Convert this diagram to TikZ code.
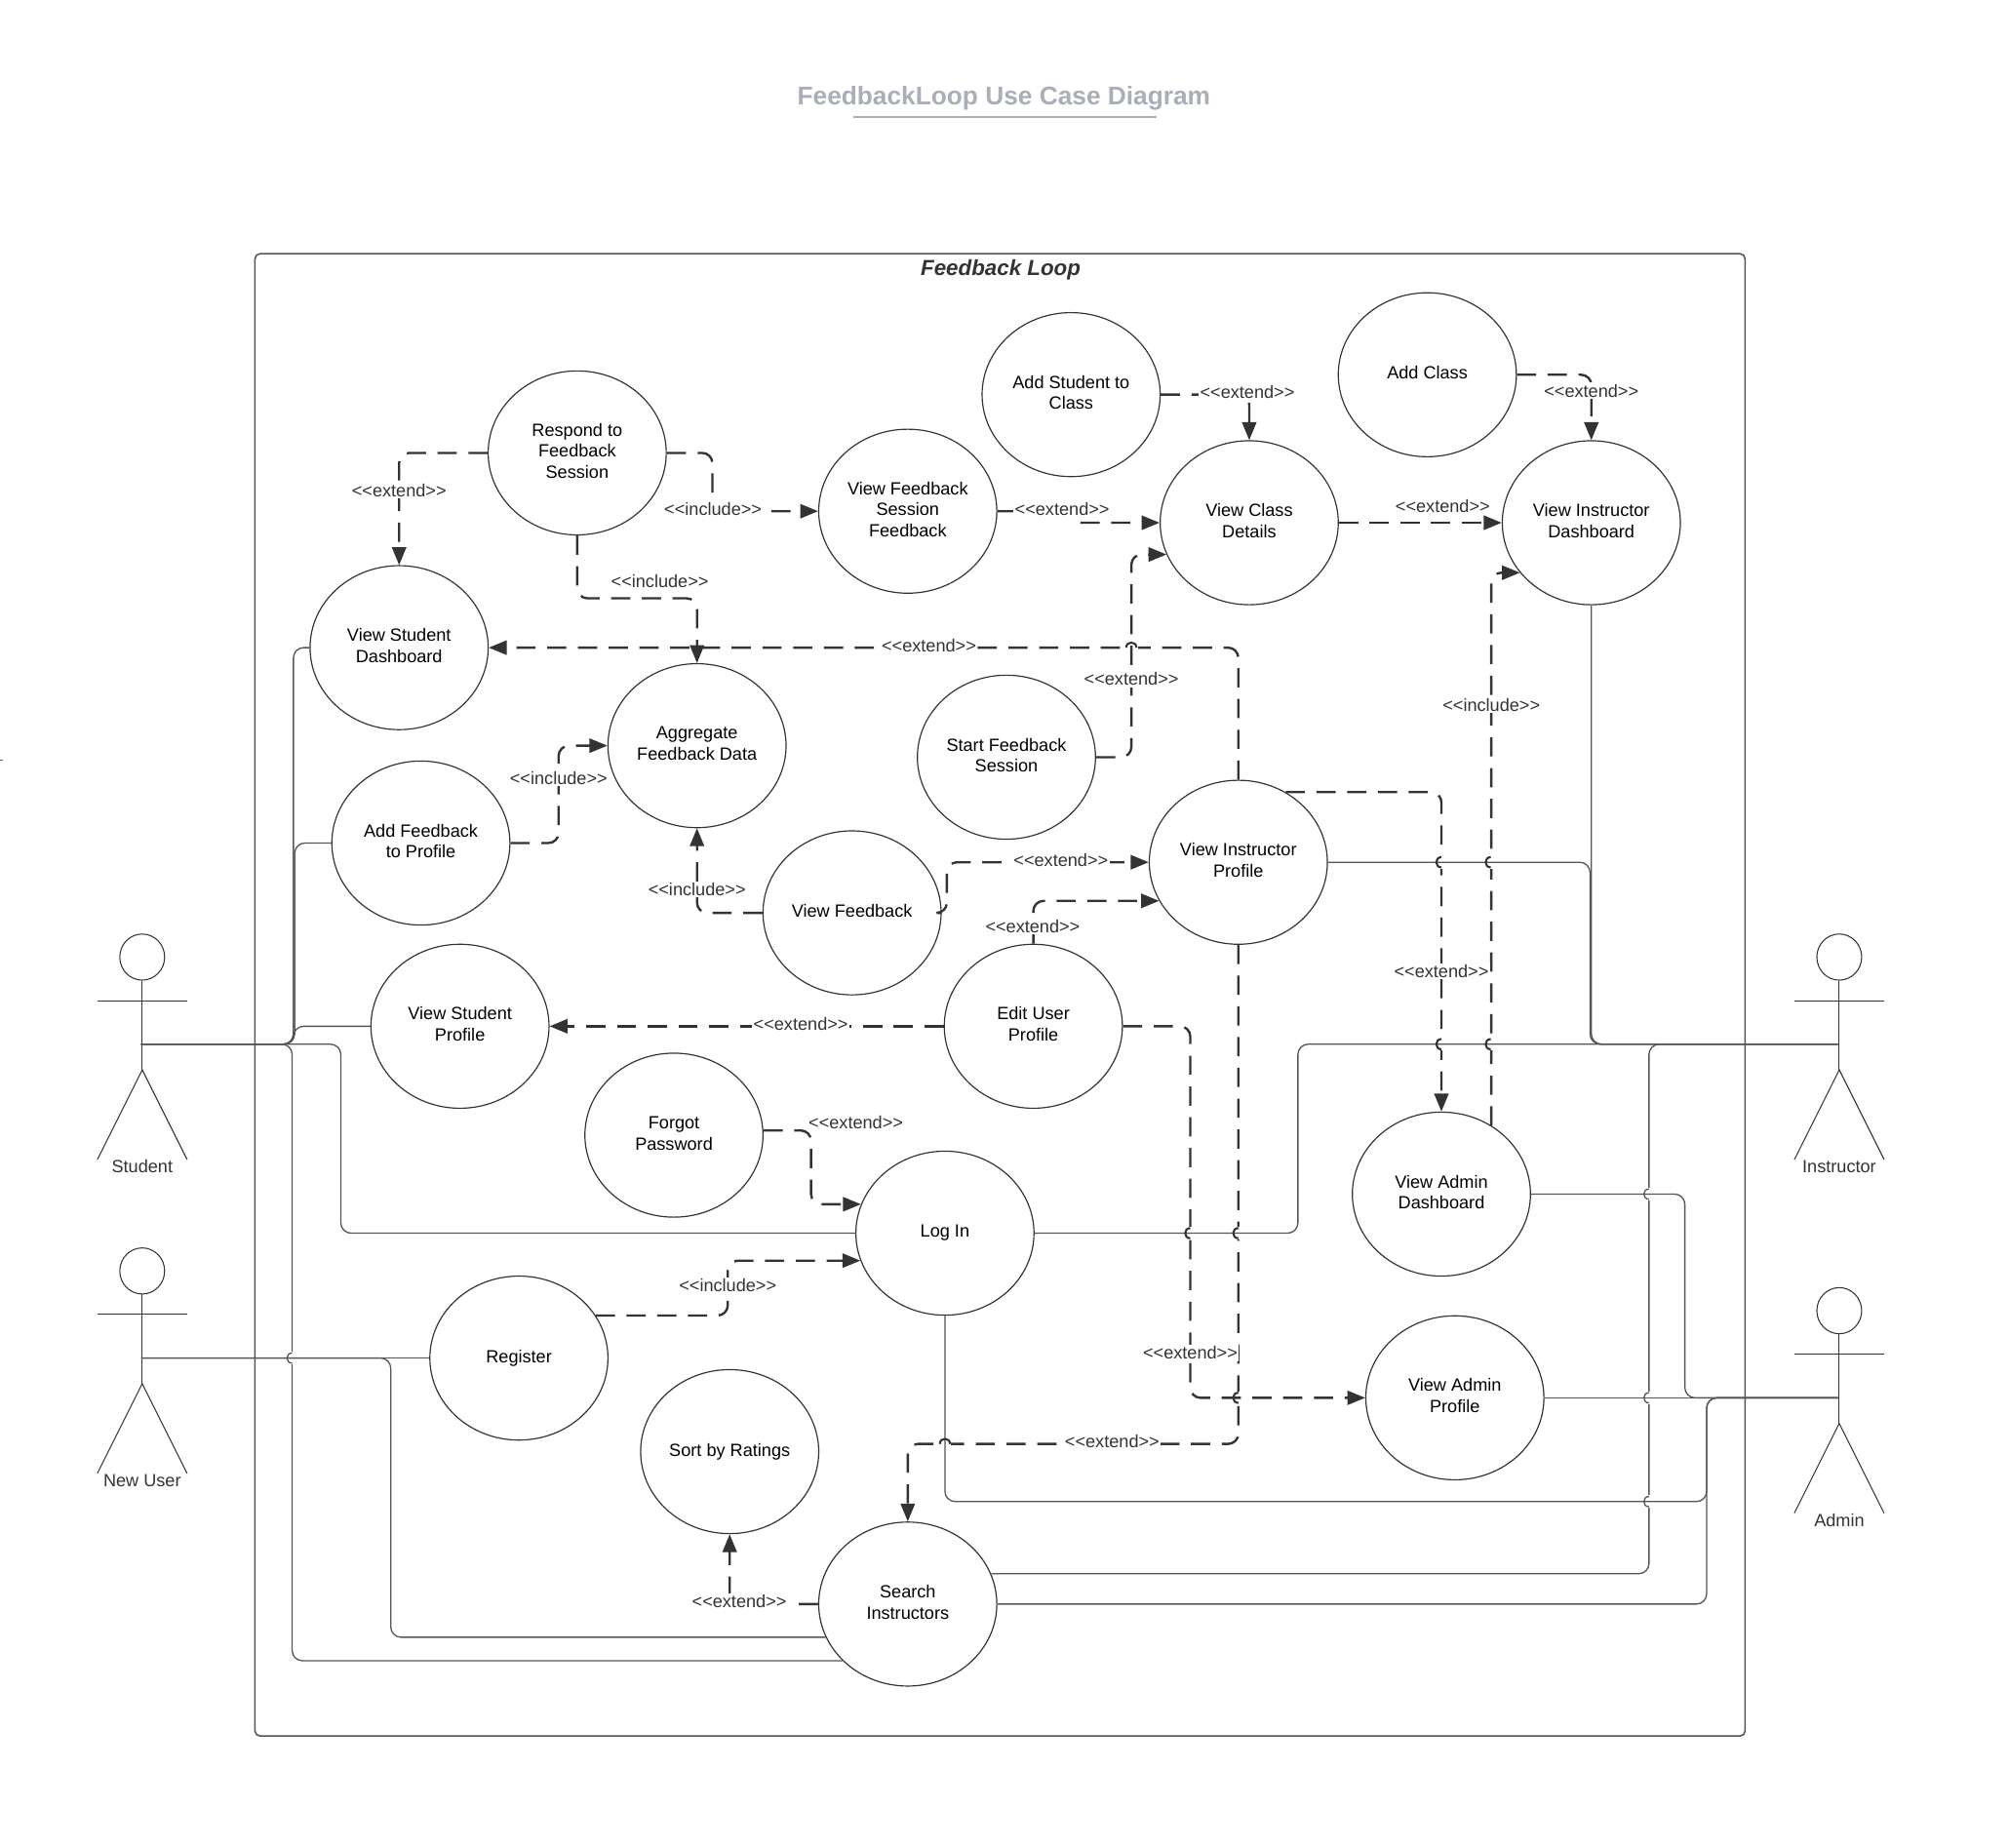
\documentclass[tikz,border=0pt]{standalone}
\usepackage{fontspec}
\setmainfont{Liberation Sans}
\usetikzlibrary{arrows.meta,shapes.geometric}
\definecolor{dk}{HTML}{333333}
\definecolor{solidc}{HTML}{555555}
\definecolor{titlec}{HTML}{A9AEB8}
\tikzset{
  uc/.style={ellipse,draw=dk,line width=0.45pt,fill=white,minimum width=69.5pt,minimum height=64pt,inner sep=0pt,align=center,text=black,text depth=1.6pt,font=\fontsize{6.9}{8.25}\selectfont},
  lbl/.style={fill=white,inner sep=0.6pt,text=dk,font=\fontsize{6.9}{8.25}\selectfont},
  actorname/.style={inner sep=0pt,text=dk,font=\fontsize{6.9}{8.25}\selectfont},
  actorline/.style={draw=dk,line width=0.4pt},
  dep/.style={draw=dk,line width=0.9pt,dash pattern=on 7.5pt off 4.5pt,rounded corners=4pt,-{Triangle[length=7pt,width=5.5pt,fill=dk]}},
  assoc/.style={draw=solidc,line width=0.5pt,rounded corners=4pt},
  hopdash/.style={draw=dk,line width=0.8pt},
  hopsolid/.style={draw=solidc,line width=0.5pt}
}
\newcommand\patchV[2]{\fill[white] ({#1-2.5},{#2-5}) rectangle ({#1+2.5},{#2+5});}
\newcommand\patchH[2]{\fill[white] ({#1-5},{#2-2.5}) rectangle ({#1+5},{#2+2.5});}
\newcommand\hopL[3]{\draw[#3] (#1,{#2-4}) .. controls ({#1-5.3},{#2-4}) and ({#1-5.3},{#2+4}) .. (#1,{#2+4});}
\newcommand\hopU[3]{\draw[#3] ({#1-4},#2) .. controls ({#1-4},{#2-5.3}) and ({#1+4},{#2-5.3}) .. ({#1+4},#2);}
% name, x, head y, label
\newcommand\actorfig[4]{
  \node[ellipse,actorline,minimum width=17.5pt,minimum height=18pt,inner sep=0pt] (#1head) at (#2,#3) {};
  \coordinate (#1) at ({#2-1},{#3+68});
  \draw[actorline] (#1head.south) -- (#2,{#3+88});
  \draw[actorline] ({#2-35},{#3+34}) -- ({#2+35},{#3+34});
  \draw[actorline] ({#2-35},{#3+158}) -- (#2,{#3+88}) -- ({#2+35},{#3+158});
  \node[actorname] (#1label) at (#2,{#3+163.5}) {#4};
}
\begin{document}
\begin{tikzpicture}[x=0.5pt,y=-0.5pt]
\useasboundingbox (0,0) rectangle (1568,1441.7);
\fill[white] (0,0) rectangle (1568,1441.7);
\draw[solidc,line width=0.4pt] (0,593) -- (2,593);
% title and frame
\node[inner sep=0pt,text=titlec,font=\fontsize{10}{12}\selectfont\bfseries] (title) at (783.5,76.5) {FeedbackLoop Use Case Diagram};
\draw[titlec,line width=0.8pt] (666,91.5) -- (903,91.5);
\draw[draw=solidc,line width=0.6pt,rounded corners=2pt] (199,198) rectangle (1362,1355);
\node[inner sep=0pt,text=dk,font=\fontsize{8.5}{10}\selectfont\bfseries\itshape] (frametitle) at (781,211) {Feedback Loop};

% use cases
\node[uc] (respond) at (450.5,353.5) {Respond to\\Feedback\\Session};
\node[uc] (viewfbs) at (708.5,399) {View Feedback\\Session\\Feedback};
\node[uc] (addstudent) at (836,308) {Add Student to\\Class};
\node[uc] (addclass) at (1114,292.5) {Add Class};
\node[uc] (classdetails) at (975,408) {View Class\\Details};
\node[uc] (instdash) at (1242,408) {View Instructor\\Dashboard};
\node[uc] (studdash) at (311.5,505.5) {View Student\\Dashboard};
\node[uc] (aggregate) at (544,582) {Aggregate\\Feedback Data};
\node[uc] (startfb) at (785.5,591) {Start Feedback\\Session};
\node[uc] (addfb) at (328.5,658) {Add Feedback\\to Profile};
\node[uc] (viewfb) at (665,712.5) {View Feedback};
\node[uc] (instprof) at (966.5,673) {View Instructor\\Profile};
\node[uc] (studprof) at (359,801) {View Student\\Profile};
\node[uc] (editprof) at (806.5,801) {Edit User\\Profile};
\node[uc] (forgot) at (526,886) {Forgot\\Password};
\node[uc] (login) at (737.5,962.5) {Log In};
\node[uc] (admindash) at (1125,932) {View Admin\\Dashboard};
\node[uc] (register) at (405,1060) {Register};
\node[uc] (adminprof) at (1135.5,1091) {View Admin\\Profile};
\node[uc] (sort) at (569.5,1133) {Sort by Ratings};
\node[uc] (search) at (708.5,1252) {Search\\Instructors};

% actors
\actorfig{student}{111}{747}{Student}
\actorfig{newuser}{111}{992}{New User}
\actorfig{instructor}{1435.5}{747}{Instructor}
\actorfig{admin}{1435.5}{1023}{Admin}

% dependencies
\draw[dep] (respond.west) -| (studdash.north);
\draw[dep] (respond.east) -- (556,353.5) -- (556,399) -- (viewfbs.west);
\draw[dep] (respond.south) -- (450.5,467) -- (544,467) -- (aggregate.north);
\draw[dep,rounded corners=1pt] (viewfbs.east) -- (842,399) -- (842,408) -- (classdetails.west);
\draw[dep] (addstudent.east) -| (classdetails.north);
\draw[dep] (addclass.east) -| (instdash.north);
\draw[dep] (classdetails.east) -- (instdash.west);
\draw[dep] (instprof.north) |- (studdash.east);
\patchH{883}{505.5}
\draw[dep] (startfb.east) -| (883,500) |- (classdetails.201);
\draw[dep] (instprof.56) -| (admindash.north);
\draw[dep] (admindash.54) |- (instdash.215);
\draw[dep] (viewfb.east) -- (739,712.5) -- (739,673) -- (instprof.west);
\draw[dep] (editprof.north) |- (instprof.206.7);
\draw[dep] (editprof.west) -- (studprof.east);
\draw[dep] (instprof.south) -- (966.5,1127) -- (708.5,1127) -- (search.north);
\patchV{966.5}{1091}
\draw[dep] (editprof.east) -- (929,801) -- (929,1091) -- (adminprof.west);
\draw[dep] (viewfb.west) -| (aggregate.south);
\draw[dep] (addfb.east) -- (436,658) -- (436,582) -- (aggregate.west);
\draw[dep] (forgot.3) -| (633,900) |- (login.161.8);
\draw[dep] (register.29.2) -| (568,1005) |- (login.198.2);
\draw[dep] (search.west) -| (sort.south);
\patchV{1125}{673}\patchV{1125}{815}\patchV{1163.5}{673}\patchV{1163.5}{815}
\patchV{929}{962.5}\patchV{966.5}{962.5}\patchH{737.5}{1127}

% associations
\draw[assoc] (student) -- (229,815) -- (229,505.5) -- (studdash.west);
\draw[assoc] (student) -- (230,815) -- (230,658) -- (addfb.west);
\draw[assoc] (student) -- (229,815) -- (229,801) -- (studprof.west);
\draw[assoc] (student) -- (266,815) -- (266,962.5) -- (login.west);
\draw[assoc] (student) -- (228,815) |- (search.221.6);
\patchV{228}{1060}
\draw[assoc] (newuser) -- (register.west);
\draw[assoc] (newuser) -- (305,1060) |- (search.202.3);
\draw[assoc] (instructor) -| (instdash.south);
\draw[assoc] (instructor) -- (1241,815) -- (1241,673) -- (instprof.east);
\draw[assoc] (instructor) -- (1013,815) -- (1013,962.5) -- (login.east);
\draw[assoc] (instructor) -- (1287,815) |- (search.20.4);
\patchV{1287}{932}\patchV{1287}{1091}\patchV{1287}{1172}
\draw[assoc] (admin) -- (1315,1091) -- (1315,932) -- (admindash.east);
\draw[assoc] (admin) -- (adminprof.east);
\draw[assoc] (admin) -- (1332,1091) -- (1332,1172) -- (737.5,1172) -- (login.south);
\draw[assoc] (admin) -- (1332,1091) -- (1332,1252) -- (search.east);

% crossings
\hopL{1125}{673}{hopdash}\hopL{1125}{815}{hopdash}
\hopL{1163.5}{673}{hopdash}\hopL{1163.5}{815}{hopdash}
\hopL{929}{962.5}{hopdash}\hopL{966.5}{962.5}{hopdash}
\hopL{966.5}{1091}{hopdash}
\hopU{883}{505.5}{hopdash}\hopU{737.5}{1127}{hopdash}
\hopL{228}{1060}{hopsolid}
\hopL{1287}{932}{hopsolid}\hopL{1287}{1091}{hopsolid}\hopL{1287}{1172}{hopsolid}

% labels
\node[lbl] (l1) at (311.5,382.5) {<{}<extend>{}>};
\node[lbl] (l2) at (556.5,397) {<{}<include>{}>};
\node[lbl] (l3) at (515,454) {<{}<include>{}>};
\node[lbl] (l4) at (829,397) {<{}<extend>{}>};
\node[lbl] (l5) at (973.5,306) {<{}<extend>{}>};
\node[lbl] (l6) at (1242,305) {<{}<extend>{}>};
\node[lbl] (l7) at (1126,395) {<{}<extend>{}>};
\node[lbl] (l8) at (883,530) {<{}<extend>{}>};
\node[lbl] (l9) at (725,504) {<{}<extend>{}>};
\node[lbl] (l10) at (1125,758) {<{}<extend>{}>};
\node[lbl] (l11) at (1164,550) {<{}<include>{}>};
\node[lbl] (l12) at (828,671) {<{}<extend>{}>};
\node[lbl] (l13) at (806,723) {<{}<extend>{}>};
\node[lbl] (l14) at (625,799) {<{}<extend>{}>};
\node[lbl] (l15) at (929,1056) {<{}<extend>{}>};
\node[lbl] (l16) at (868,1125) {<{}<extend>{}>};
\node[lbl] (l17) at (544,694) {<{}<include>{}>};
\node[lbl] (l18) at (436,607.5) {<{}<include>{}>};
\node[lbl] (l19) at (668,876) {<{}<extend>{}>};
\node[lbl] (l20) at (568,1003) {<{}<include>{}>};
\node[lbl] (l21) at (577,1250) {<{}<extend>{}>};
\end{tikzpicture}
\end{document}
